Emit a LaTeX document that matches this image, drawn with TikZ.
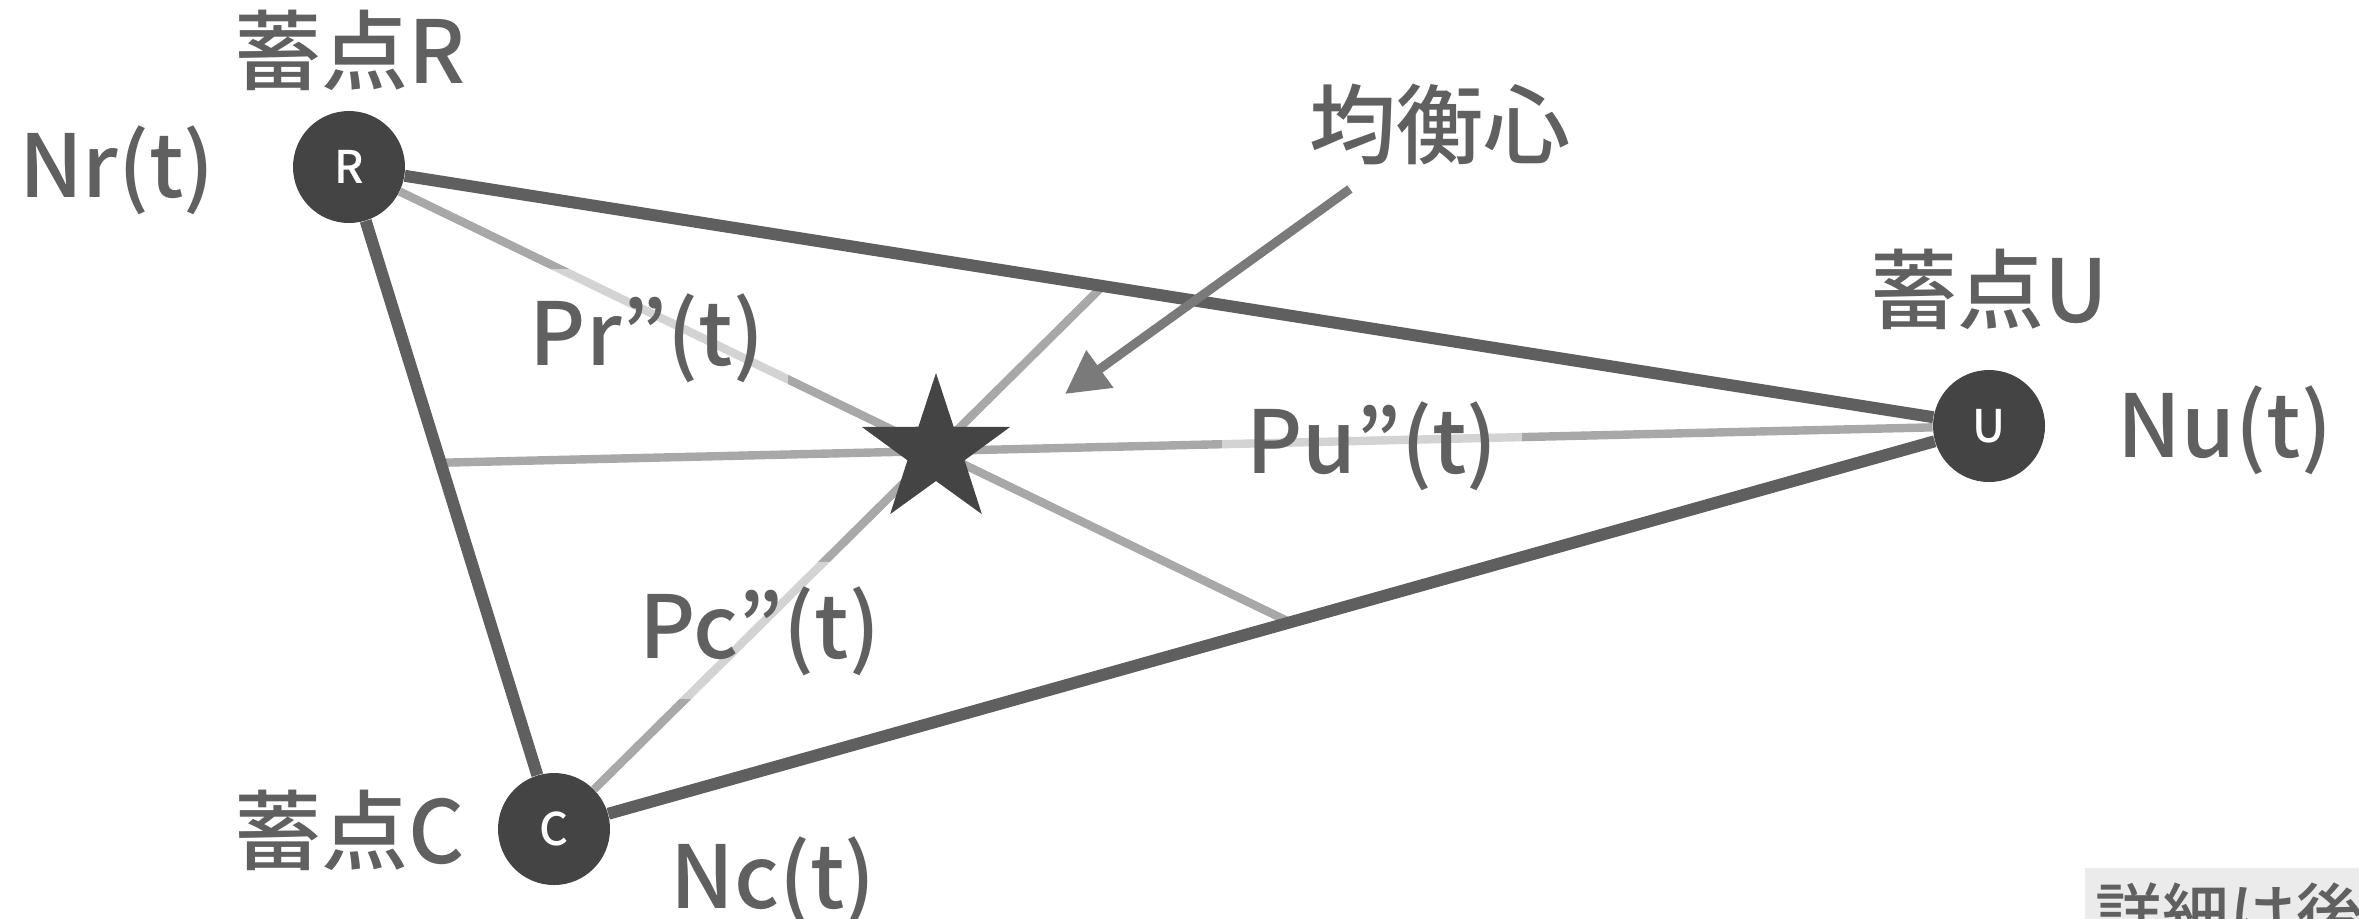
\documentclass[tikz,border=0pt]{standalone}
\usepackage{fontspec}
\setmainfont{Noto Sans CJK JP}[UprightFont={* Medium}]
\usetikzlibrary{shapes.geometric,arrows.meta,positioning}
\definecolor{vtxgray}{HTML}{444444}
\definecolor{sidegray}{HTML}{5F5F5F}
\definecolor{medgray}{HTML}{A8A8A8}
\definecolor{arrowgray}{HTML}{7A7A7A}
\definecolor{textgray}{HTML}{606060}
\definecolor{notegray}{HTML}{EBEBEB}

\begin{document}
\begin{tikzpicture}[
  x=0.5pt, y=-0.5pt,
  vertex/.style={circle, fill=vtxgray, minimum size=56pt, inner sep=0pt,
                 text=white, font=\fontsize{22.5pt}{26pt}\selectfont},
  side/.style={draw=sidegray, line width=6pt},
  median/.style={draw=medgray, line width=4.2pt},
  lbl/.style={text=textgray, inner sep=0pt, anchor=base,
              font=\fontsize{43.5pt}{52pt}\selectfont},
  plbl/.style={lbl, fill=white, fill opacity=0.5, text opacity=1, inner sep=12pt},
  eqstar/.style={star, star points=5, star point ratio=2.6, fill=vtxgray,
                 minimum size=78pt, inner sep=0pt},
  arr/.style={draw=arrowgray, line width=4.5pt, -{Triangle[length=21.5pt,width=22pt]}},
  note/.style={fill=notegray, text=textgray, inner xsep=5pt, inner ysep=7pt,
               font=\fontsize{33.5pt}{40pt}\selectfont}
]
\useasboundingbox (0,0) rectangle (2359,918);

% Storage points
\node[vertex] (R) at (349,167) {R};
\node[vertex] (U) at (1989,426) {U};
\node[vertex] (C) at (554,829) {C};
\coordinate (G) at (936,451);
\coordinate (ptrtip) at (1065,394);

% Lines through the balance centre
\draw[median] (R) -- (intersection of R--G and C--U);
\draw[median] (U) -- (intersection of U--G and R--C);
\draw[median] (C) -- (intersection of C--G and R--U);

% Triangle
\draw[side] (R) -- (U);
\draw[side] (U) -- (C);
\draw[side] (C) -- (R);

\node[eqstar] (eq) at (G) {};

% Labels
\node[lbl] (nameR) at (350,83) {蓄点R};
\node[lbl] (nameU) at (1989,322) {蓄点U};
\node[lbl] (nameC) at (350,863) {蓄点C};
\node[lbl] (nr) at (117,197) {Nr(t)};
\node[lbl] (nu) at (2225,457) {Nu(t)};
\node[lbl] (nc) at (773,908) {Nc(t)};

\node[plbl] (pr) at (647,365) {Pr”(t)};
\node[plbl] (pc) at (760,658) {Pc”(t)};
\node[plbl] (pu) at (1372,473) {Pu”(t)};

\node[lbl, inner sep=12pt] (eqlabel) at (1440,157) {均衡心};
\draw[arr] (eqlabel) -- (ptrtip);

\node[note, anchor=north west] (note) at (2085,868) {詳細は後};
\end{tikzpicture}
\end{document}
